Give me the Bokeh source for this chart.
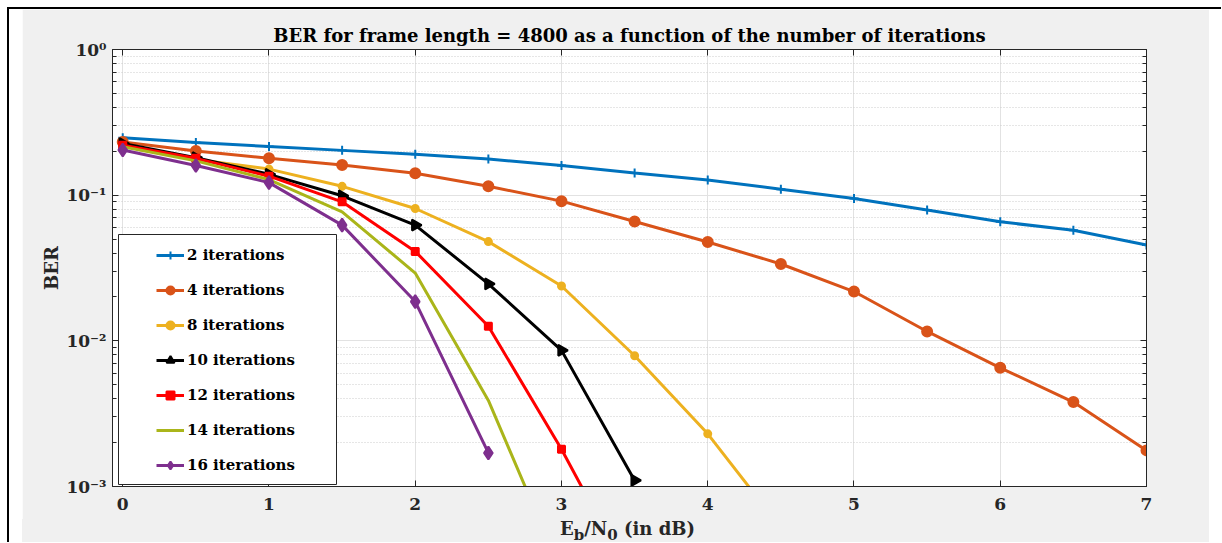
import math
from bokeh.plotting import figure
from bokeh.models import (Range1d, LogAxis, LinearAxis, FixedTicker, CustomJSTickFormatter,
                          Legend, LegendItem, BoxAnnotation, Spacer, Div)
from bokeh.layouts import row, column
from bokeh.embed import file_html
from bokeh.resources import INLINE

# ---------------- data ----------------
ebn0 = [0, 0.5, 1, 1.5, 2, 2.5, 3, 3.5, 4, 4.5, 5, 5.5, 6, 6.5, 7]
ber_2 = [0.248, 0.230, 0.216, 0.203, 0.191, 0.177, 0.160, 0.142, 0.127, 0.110,
         0.095, 0.079, 0.0656, 0.0575, 0.0455]
ber_4 = [0.232, 0.201, 0.179, 0.161, 0.1415, 0.115, 0.091, 0.066, 0.0477, 0.0337,
         0.0218, 0.0116, 0.00653, 0.0038, 0.00177]
ber_8 = [0.222, 0.176, 0.151, 0.115, 0.081, 0.048, 0.0238, 0.0079, 0.0023, 0.00052]
ber_10 = [0.226, 0.181, 0.139, 0.099, 0.0623, 0.0246, 0.0086, 0.0011]
ber_12 = [0.220, 0.179, 0.135, 0.090, 0.0411, 0.0126, 0.0018, 0.00021]
ber_14 = [0.215, 0.172, 0.128, 0.0769, 0.0292, 0.0039, 0.00026]
ber_16 = [0.204, 0.160, 0.122, 0.0623, 0.0186, 0.0017]

labels = ["2 iterations", "4 iterations", "8 iterations", "10 iterations",
          "12 iterations", "14 iterations", "16 iterations"]
x_ticks = [0, 1, 2, 3, 4, 5, 6, 7]
y_ticks = [0.001, 0.01, 0.1, 1]

title_text = "BER for frame length = 4800 as a function of the number of iterations"
xlabel_html = "E<sub>b</sub>/N<sub>0</sub> (in dB)"

# ---------------- styles ----------------
FONT = "DejaVu Serif"
TXT = "#262626"
series = [
    (ber_2, "#0072BD", "cross", 9, 0),
    (ber_4, "#D95319", "circle", 10, 0),
    (ber_8, "#EDB120", "circle", 7, 0),
    (ber_10, "#000000", "triangle", 11, -math.pi / 2),
    (ber_12, "#FF0000", "square", 7, 0),
    (ber_14, "#AAB51A", None, 0, 0),
    (ber_16, "#7E2F8E", "diamond", 13, 0),
]

p = figure(width=1187, height=510,
           x_range=Range1d(-0.07, 7), y_range=Range1d(1e-3, 1),
           y_axis_type="log", output_backend="svg", toolbar_location=None,
           min_border_left=90, min_border_right=63, min_border_top=40, min_border_bottom=33,
           background_fill_color="white", border_fill_color="#f0f0f0",
           title=title_text, margin=0)

p.title.align = "center"
p.title.text_font = FONT
p.title.text_font_style = "bold"
p.title.text_font_size = "18px"
p.title.text_color = "#000000"
p.title.standoff = 7

xticker = FixedTicker(ticks=x_ticks)
yminor = [m * t for t in y_ticks[:-1] for m in range(2, 10)]
yticker = FixedTicker(ticks=y_ticks, minor_ticks=yminor)
yfmt = CustomJSTickFormatter(code="""
const sup = {'0':'\u2070','1':'\u00b9','2':'\u00b2','3':'\u00b3','-':'\u207b'};
const e = Math.round(Math.log10(tick));
return '10' + String(e).split('').map(c => sup[c]).join('');
""")
blank = CustomJSTickFormatter(code="return '';")

def style_axis(ax):
    ax.axis_line_color = TXT
    ax.major_tick_line_color = TXT
    ax.minor_tick_line_color = TXT
    ax.major_tick_in = 6
    ax.major_tick_out = 0
    ax.minor_tick_in = 4
    ax.minor_tick_out = 0
    ax.major_label_text_font = FONT
    ax.major_label_text_font_style = "bold"
    ax.major_label_text_font_size = "17px"
    ax.major_label_text_color = TXT

p.xaxis.ticker = xticker
p.xgrid.ticker = xticker
p.yaxis.ticker = yticker
p.ygrid.ticker = yticker
p.yaxis.formatter = yfmt
style_axis(p.xaxis[0])
style_axis(p.yaxis[0])
p.xaxis.minor_tick_line_color = None
p.xaxis.major_label_standoff = 11
p.yaxis.major_label_standoff = 6
p.yaxis.axis_label = "BER"
p.yaxis.axis_label_text_font = FONT
p.yaxis.axis_label_text_font_style = "bold"
p.yaxis.axis_label_text_font_size = "18px"
p.yaxis.axis_label_text_color = TXT
p.yaxis.axis_label_standoff = 1

right = LogAxis(ticker=yticker, formatter=blank)
style_axis(right)
right.major_label_text_font_size = "2px"
right.major_label_standoff = 0
p.add_layout(right, "right")
top = LinearAxis(ticker=xticker, formatter=blank)
style_axis(top)
top.major_label_text_font_size = "2px"
top.major_label_standoff = 0
top.minor_tick_line_color = None
p.add_layout(top, "above")

p.xgrid.grid_line_color = "#e2e2e2"
p.ygrid.grid_line_color = "#e2e2e2"
p.ygrid.minor_grid_line_color = "#cdcdcd"
p.ygrid.minor_grid_line_dash = "1 2"
p.outline_line_color = TXT

items = []
for (vals, color, marker, size, ang), lab in zip(series, labels):
    xs = ebn0[:len(vals)]
    rs = [p.line(xs, vals, line_color=color, line_width=3)]
    if marker:
        rs.append(p.scatter(xs, vals, marker=marker, size=size, angle=ang,
                            fill_color=color, line_color=color, line_width=2))
    items.append(LegendItem(label=lab, renderers=rs))

box = BoxAnnotation(left=96, right=314, top=225, bottom=475,
                    left_units="canvas", right_units="canvas",
                    top_units="canvas", bottom_units="canvas",
                    fill_color="white", fill_alpha=1.0,
                    line_color=TXT, line_width=1, line_alpha=1.0)
p.add_layout(box)

legend = Legend(items=items, location=(44, 11), padding=10, spacing=15,
                label_height=20, glyph_height=20, glyph_width=28, label_standoff=3,
                background_fill_alpha=0, border_line_color=None, margin=0,
                label_text_font=FONT, label_text_font_style="bold",
                label_text_font_size="15px", label_text_color="#000000")
p.add_layout(legend)

xlabel = Div(text='<span style="margin-left:538px">' + xlabel_html + '</span>',
             width=1187, height=23, margin=0,
             styles={"background-color": "#f0f0f0", "font-family": FONT,
                     "font-weight": "bold", "font-size": "18px", "color": TXT,
                     "line-height": "19px"})

layout = row(Spacer(width=13, height=533, styles={"background-color": "white"}, margin=0),
             column(p, xlabel, spacing=0, margin=0),
             Spacer(width=12, height=533, styles={"background-color": "white"}, margin=0),
             margin=(7, 0, 0, 7), spacing=0,
             styles={"border-left": "2px solid black", "border-top": "2px solid black"})

open("out.html", "w").write(file_html(layout, INLINE))
